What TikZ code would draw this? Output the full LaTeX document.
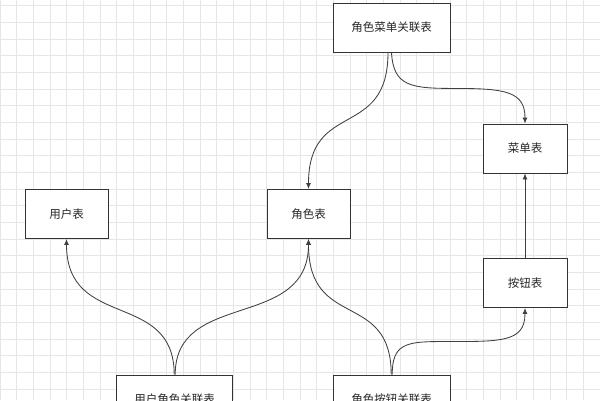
\documentclass[tikz,border=0pt]{standalone}
\usepackage{fontspec}
\setmainfont{Noto Sans CJK SC}
\usetikzlibrary{arrows.meta}
\definecolor{gridc}{HTML}{E6E6E6}
\definecolor{boxc}{HTML}{333333}
\definecolor{edgec}{HTML}{404040}
\tikzset{
  tbl/.style={draw=boxc, line width=0.9pt, fill=white, minimum width=#1, minimum height=49pt, inner sep=0pt, font=\fontsize{11.5}{13}\selectfont, text=black!85},
  tbl/.default=84pt,
  conn/.style={draw=edgec, line width=0.85pt, -{Latex[length=6pt,width=5pt]}}
}
\begin{document}
\begin{tikzpicture}[x=1pt,y=-1pt]
\useasboundingbox (0,0) rectangle (600,400);
\clip (0,0) rectangle (600,400);
\fill[white] (0,0) rectangle (600,400);
% grid
\foreach \i in {0,...,36} {\draw[gridc, line width=0.8pt] (\i*16.667,0) -- (\i*16.667,400);}
\foreach \j in {0,...,24} {\draw[gridc, line width=0.8pt] (0,5.67+\j*16.667) -- (600,5.67+\j*16.667);}
% nodes
\node[tbl=117pt] (rm) at (391.5,27.5) {角色菜单关联表};
\node[tbl=84pt] (menu) at (525,148.5) {菜单表};
\node[tbl=83pt] (user) at (66.5,214) {用户表};
\node[tbl=83pt] (role) at (308.5,214) {角色表};
\node[tbl=84pt] (btn) at (525,283) {按钮表};
\node[tbl=116pt] (ur) at (174.7,399.5) {用户角色关联表};
\node[tbl=117pt] (rb) at (391.7,399.5) {角色按钮关联表};
% connectors
\draw[conn] ([xshift=-3.5pt]rm.south) .. controls +(0,88) and +(0,-90) .. (role.north);
\draw[conn] ([xshift=0pt]rm.south) .. controls +(2,34) and +(-45,0) .. ++(64,36) .. controls +(50,0) and +(0,-32) .. (menu.north);
\draw[conn] (btn.north) -- (menu.south);
\draw[conn] ([xshift=-0.5pt]ur.north) .. controls +(0,-85) and +(0,92) .. (user.south);
\draw[conn] ([xshift=0.5pt]ur.north) .. controls +(0,-85) and +(0,92) .. (role.south);
\draw[conn] ([xshift=-0.5pt]rb.north) .. controls +(0,-85) and +(0,92) .. (role.south);
\draw[conn] ([xshift=0.5pt]rb.north) .. controls +(0,-30) and +(-35,0) .. ++(48,-33) .. controls +(60,0) and +(0,35) .. (btn.south);
\end{tikzpicture}
\end{document}
